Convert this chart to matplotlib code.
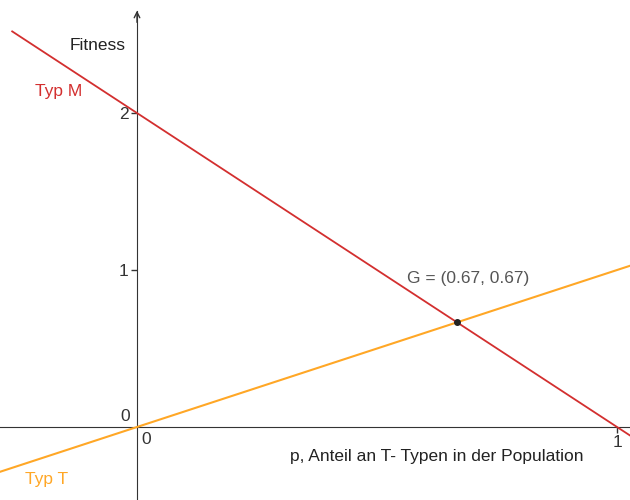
import matplotlib.pyplot as plt
import numpy as np

plt.rcParams['font.family'] = ['Liberation Sans', 'DejaVu Sans']

# line end points (p, fitness)
p_m = [-0.26, 1.05]
fit_m = [2.52, -0.10]
p_t = [-0.30, 1.05]
fit_t = [-0.30, 1.05]
g_point = (0.667, 0.667)

red = '#d32f2f'
orange = '#ffa726'
axis_col = '#333333'
fs = 12.5

fig = plt.figure(figsize=(6.3, 5.0), dpi=100)
ax = fig.add_axes([0, 0, 1, 1])
ax.set_xlim(-0.2854, 1.027)
ax.set_ylim(-0.465, 2.720)

# axes through the origin
for s in ['top', 'right']:
    ax.spines[s].set_visible(False)
ax.spines['left'].set_position(('data', 0))
ax.spines['bottom'].set_position(('data', 0))
ax.spines['left'].set_color(axis_col)
ax.spines['bottom'].set_color(axis_col)
ax.spines['left'].set_bounds(-0.465, 2.65)
ax.annotate('', xy=(0, 2.67), xytext=(0, 2.56),
            arrowprops=dict(arrowstyle='->', color=axis_col, lw=1, mutation_scale=10))

ax.set_xticks([1])
ax.set_yticks([1, 2])
ax.set_xticklabels(['1'])
ax.set_yticklabels(['1', '2'])
ax.tick_params(axis='both', length=4, width=1, color=axis_col,
               labelsize=fs, labelcolor=axis_col, pad=2)
ax.text(-0.015, 0.02, '0', ha='right', va='bottom', fontsize=fs, color=axis_col)
ax.text(0.01, -0.03, '0', ha='left', va='top', fontsize=fs, color=axis_col)

# lines
ax.plot(p_m, fit_m, color=red, lw=1.3, zorder=3)
ax.plot(p_t, fit_t, color=orange, lw=1.5, zorder=3)
ax.plot(*g_point, 'o', color='#222222', ms=4, zorder=4)

# labels
ax.text(-0.083, 2.43, 'Fitness', ha='center', va='center', fontsize=fs, color='#222222')
ax.text(-0.1625, 2.14, 'Typ M', ha='center', va='center', fontsize=fs, color=red)
ax.text(-0.1885, -0.335, 'Typ T', ha='center', va='center', fontsize=fs, color=orange)
ax.text(0.5625, 0.945, 'G = (0.67, 0.67)', ha='left', va='center', fontsize=fs, color='#555555')
ax.text(0.319, -0.19, 'p, Anteil an T- Typen in der Population', ha='left', va='center',
        fontsize=fs, color='#222222')

fig.savefig('out.png', dpi=100)
